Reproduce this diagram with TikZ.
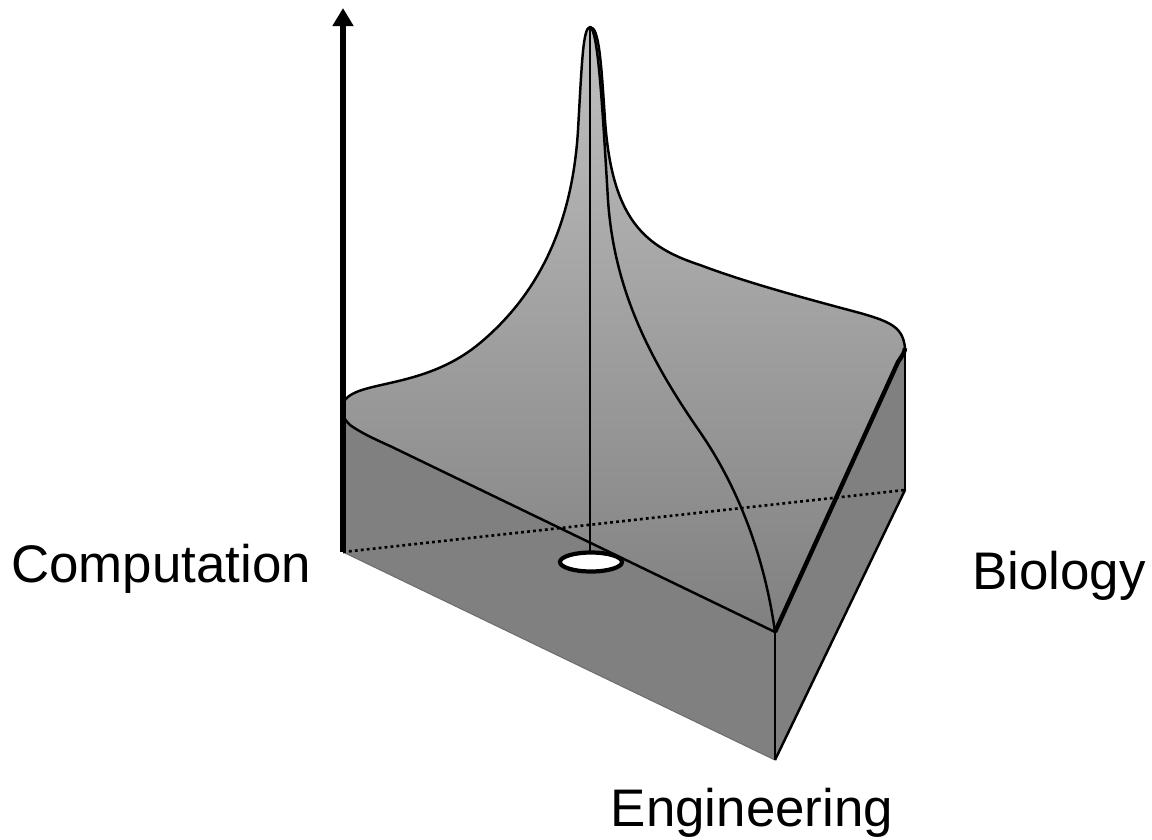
\documentclass[tikz,border=0pt]{standalone}
\usepackage{fontspec}
\setmainfont{Liberation Sans}
\usepackage{tikz}
\usetikzlibrary{arrows.meta}
\definecolor{peakgray}{RGB}{192,192,192}
\definecolor{midgray}{RGB}{152,152,152}
\definecolor{sidegray}{RGB}{128,128,128}
\definecolor{rimgray}{RGB}{110,110,110}
\tikzset{
  face/.style={fill=sidegray, draw=none},
  rim/.style={line width=1.4pt, color=black, line join=round},
  thickrim/.style={line width=2.5pt, color=black, line join=round},
  softrim/.style={line width=0.6pt, color=rimgray},
  hidden/.style={line width=1.5pt, dash pattern=on 1.6pt off 1.8pt},
  axisarrow/.style={-{Triangle[length=0.36cm, width=0.4cm]}, line width=3.6pt},
  hole/.style={fill=white, draw=black, line width=2.4pt},
  axislabel/.style={font=\fontsize{30.1}{34}\selectfont, anchor=base, inner sep=0pt}
}

\begin{document}
\begin{tikzpicture}[x=0.02cm, y=-0.02cm]
  \useasboundingbox (0,0) rectangle (1152,839);

  \coordinate (comp) at (343,552);
  \coordinate (eng) at (775,760);
  \coordinate (bio) at (905,490);
  \coordinate (engtop) at (775,632);
  \coordinate (biotop) at (905,348);
  \coordinate (peak) at (590,27);
  \coordinate (holetop) at (590,553);
  \coordinate (axistop) at (343,8);

  % sides of the block
  \fill[face] (comp) -- (eng) -- (engtop) -- (390,446)
    .. controls (370,437) and (360,432) .. (350,425) -- (343,410) -- cycle;
  \fill[face] (eng) -- (bio) -- (biotop) -- (898,362) -- (engtop) -- cycle;

  % fitness surface
  \shade[top color=peakgray, middle color=midgray, bottom color=sidegray]
    (350,425) .. controls (360,432) and (370,437) .. (390,446) -- (engtop)
    -- (898,362) .. controls (902,356) and (905,352) .. (biotop)
    .. controls (903,328) and (892,322) .. (860,313)
    .. controls (800,297) and (745,282) .. (700,265)
    .. controls (645,247) and (612,220) .. (605,120)
    .. controls (601,60) and (599,27) .. (peak)
    .. controls (583,28) and (582,60) .. (578,130)
    .. controls (572,230) and (535,297) .. (480,343)
    .. controls (425,389) and (360,380) .. (345,400)
    .. controls (338,410) and (343,418) .. cycle;

  \draw[rim] (345,400) .. controls (338,410) and (343,418) .. (350,425)
    .. controls (360,432) and (370,437) .. (390,446) -- (engtop);
  \draw[rim] (biotop)
    .. controls (903,328) and (892,322) .. (860,313)
    .. controls (800,297) and (745,282) .. (700,265)
    .. controls (645,247) and (612,220) .. (605,120)
    .. controls (601,60) and (599,27) .. (peak)
    .. controls (583,28) and (582,60) .. (578,130)
    .. controls (572,230) and (535,297) .. (480,343)
    .. controls (425,389) and (360,380) .. (345,400);
  \draw[thickrim] (engtop) -- (898,362) .. controls (902,356) and (905,352) .. (biotop);

  % block edges
  \draw[softrim] (comp) -- (eng);
  \draw[rim] (eng) -- (bio);
  \draw[rim] (eng) -- (engtop);
  \draw[rim] (bio) -- (biotop);
  \draw[hidden] (comp) -- (bio);

  % ridge lines
  \draw[rim] (peak) -- (holetop);
  \draw[rim] (peak) .. controls (598,30) and (602,100) .. (608,200)
    .. controls (614,290) and (650,360) .. (700,432)
    .. controls (740,490) and (765,560) .. (engtop);

  \draw[hole] (591,562) ellipse [x radius=31, y radius=9.5];

  \draw[axisarrow] (comp) -- (axistop);

  \node[axislabel] (complabel) at (161,582) {Computation};
  \node[axislabel] (biolabel) at (1059,589) {Biology};
  \node[axislabel] (englabel) at (752,826) {Engineering};
\end{tikzpicture}
\end{document}
